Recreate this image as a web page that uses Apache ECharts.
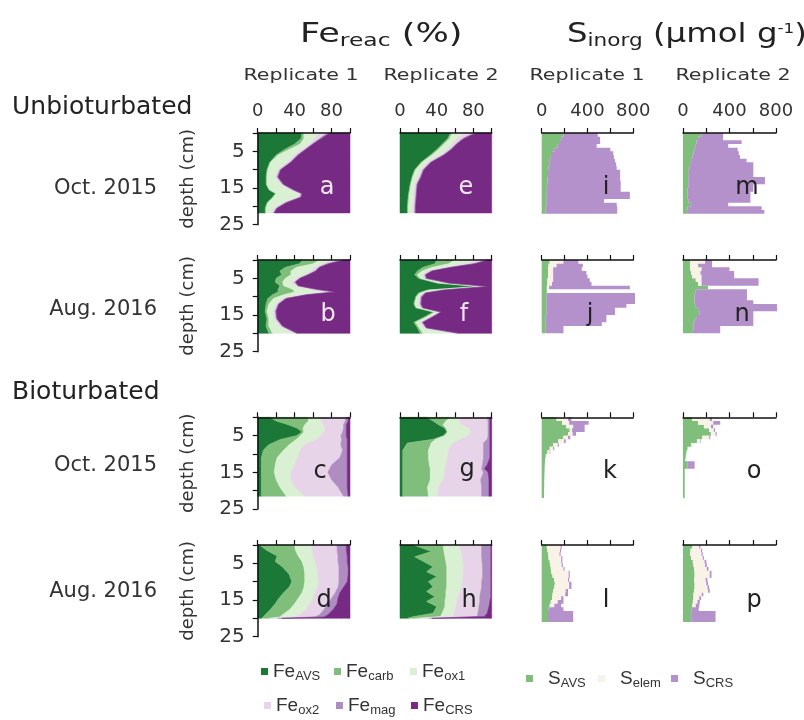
<!DOCTYPE html>
<html><head><meta charset="utf-8">
<script src="https://cdn.jsdelivr.net/npm/echarts@6/dist/echarts.min.js"></script>
<style>html,body{margin:0;padding:0;background:#fff}#c{width:804px;height:720px}</style>
</head><body><div id="c"></div>
<script>
// ---------- categories / names ----------
const feKeys = ['AVS','carb','ox1','ox2','mag','CRS'];
const feNames = ['Fe_AVS','Fe_carb','Fe_ox1','Fe_ox2','Fe_mag','Fe_CRS'];
const sKeys = ['AVS','elem','CRS'];
const sNames = ['S_AVS','S_elem','S_CRS'];
const feTickLabels = ['0','40','80'];
const sTickLabels = ['0','400','800'];
const depthTickLabels = ['5','15','25'];
const rowLabels = ['Oct. 2015','Aug. 2016','Oct. 2015','Aug. 2016'];
const panelLetters = [['a','e','i','m'],['b','f','j','n'],['c','g','k','o'],['d','h','l','p']];
const sliceThickness = 1; // cm, S slices

// ---------- Fe_reac (%) profiles ----------
const feA = { depth:[0,1.5,3,4.5,6,8,10,12,14,15.5,16.5,17.5,19,20.5,21.8],
  AVS:[48,47,40,29,20,13,10,9,9,12,19,16,10,8,8], carb:[2,3,6,5,2,1,1,1,1,1,1,1,1,1,1],
  ox1:[17,12,10,14,18,18,11,9,15,23,25,27,17,9,6], ox2:[8,5,3,3,3,3,2,2,2,2,2,2,2,2,2],
  mag:[3,2,1,1,1,1,1,1,1,1,1,1,1,1,1], CRS:[22,31,40,48,56,64,75,78,72,61,52,53,69,79,82] };
const feE = { depth:[0,1.5,3,4.5,6,8,10,12,14,17,20,21.8],
  AVS:[55,52,46,40,33,23,16,13,11,9,8,8], carb:[2,2,2,2,2,1,1,1,1,1,1,1],
  ox1:[13,8,9,10,9,6,6,6,4,5,5,5], ox2:[10,6,4,3,3,3,2,2,2,2,2,2],
  mag:[3,2,1,1,1,1,1,1,1,1,1,1], CRS:[17,30,38,44,52,66,74,77,81,82,83,83] };
const feB = { depth:[0,1,2,3,4,5,6,7,8,8.7,9.5,10.5,12,14,16,18,20],
  AVS:[49,45,30,24,26,20,19,24,22,22,16,11,9,8,10,9,12], carb:[18,15,12,12,10,10,8,4,16,18,12,6,3,2,2,3,4],
  ox1:[17,10,20,22,15,12,10,12,20,36,20,10,8,7,6,12,22], ox2:[8,5,4,4,3,3,3,3,5,6,4,3,2,2,2,2,4],
  mag:[2,2,1,1,1,1,1,1,1,2,1,1,1,1,1,1,1], CRS:[6,23,33,37,45,54,59,56,36,16,47,69,77,80,79,73,57] };
const feF = { depth:[0,1,2,3,4,5,6.3,7.2,8.2,9,10,12,13,14.2,15.5,17,18.5,20],
  AVS:[40,38,25,19,16,20,40,84,29,20,17,15,17,36,27,15,19,22], carb:[20,15,10,5,3,2,2,2,3,2,1,1,1,2,2,2,2,3],
  ox1:[27,20,15,7,6,4,9,7,12,3,3,4,4,4,4,5,5,35], ox2:[7,7,5,3,2,2,2,3,3,2,2,2,2,2,2,2,2,4],
  mag:[2,2,1,1,1,1,1,1,1,1,1,1,1,1,1,1,1,1], CRS:[4,18,44,65,72,71,46,3,52,72,76,77,75,55,64,75,71,35] };
const feC = { depth:[0,1,2,3,4,5,6,7.5,9,11,13,15,17,19,21.5],
  AVS:[13,20,33,43,48,42,25,12,6,4,4,4,4,4,4], carb:[42,35,18,6,2,4,17,22,22,17,15,14,16,20,27],
  ox1:[12,14,20,24,22,22,22,16,18,22,21,18,16,16,20], ox2:[28,26,22,20,20,22,27,40,46,46,40,40,44,47,42],
  mag:[3,3,3,3,4,6,6,7,5,8,17,21,17,10,5], CRS:[2,2,4,4,4,4,3,3,3,3,3,3,3,3,2] };
const feG = { depth:[0,1,2,3,4,5,6,7,9,11,13,14,15,17,19,21.5],
  AVS:[29,36,42,49,51,47,36,8,3,3,3,3,3,3,3,3], carb:[26,14,5,1,1,2,3,26,28,28,29,30,30,30,27,28],
  ox1:[14,14,20,26,25,26,27,24,22,21,18,16,16,14,12,10], ox2:[26,32,29,20,19,21,29,33,38,39,40,40,42,41,47,48],
  mag:[3,2,2,2,2,2,3,7,7,7,5,3,5,9,8,8], CRS:[2,2,2,2,2,2,2,2,2,2,5,8,4,3,3,3] };
const feD = { depth:[0,1.5,3,4.5,6,8,10,11.5,13,14.5,16,17.5,19,19.6,20],
  AVS:[2,10,21,19,27,34,37,34,28,23,19,14,8,6,4], carb:[38,31,23,29,23,17,14,16,20,21,21,21,19,18,8],
  ox1:[18,18,16,14,14,14,15,15,14,16,16,18,18,16,4], ox2:[28,27,27,25,24,23,22,22,22,20,20,19,22,22,6],
  mag:[10,10,10,10,10,10,9,6,5,7,10,10,9,10,4], CRS:[4,4,3,3,2,2,3,7,11,13,14,18,24,28,74] };
const feH = { depth:[0,1.8,3.2,5.9,7.3,8.6,10,11.4,12.7,14.1,15.4,16.8,18.6,19.5,20],
  AVS:[15,34,16,36,29,40,31,36,29,38,29,40,36,15,8], carb:[32,14,33,15,22,11,20,15,21,12,20,9,10,29,10],
  ox1:[18,19,19,18,18,18,17,16,16,13,13,12,13,14,8], ox2:[24,22,21,21,21,21,21,22,22,24,25,25,26,26,6],
  mag:[10,10,10,9,9,9,10,10,11,12,11,11,10,8,3], CRS:[1,1,1,1,1,1,1,1,1,1,2,3,5,8,65] };

// ---------- S_inorg (umol/g) slices (top depth of each 1-cm slice) ----------
const sI = { top:[0,1,2,3,4,5,6,7,8,9,10,11,12,13,14,15,16,17,18,19,20,21],
  AVS:[190,170,160,140,110,90,80,70,65,60,55,55,50,50,45,45,45,40,40,40,35,35],
  elem:[0,0,0,0,0,0,0,0,0,0,0,0,0,0,0,0,0,0,0,0,0,0],
  CRS:[300,340,350,340,490,535,550,570,585,595,630,630,635,640,645,645,725,730,505,615,625,625] };
const sM = { top:[0,1,2,3,4,5,6,7,8,9,10,11,12,13,14,15,16,17,18,19,20,21],
  AVS:[158,130,115,105,100,90,80,70,60,55,50,50,45,45,45,40,40,40,45,70,40,35],
  elem:[0,0,0,0,0,0,0,0,0,0,0,0,0,0,0,0,0,0,0,0,0,0],
  CRS:[187,215,389,284,370,390,410,477,545,550,555,555,660,660,560,565,540,540,535,319,637,665] };
const sJ = { top:[0,1,2,3,4,5,6,7,8,9,10,11,12,13,14,15,16,17,18,19],
  AVS:[70,60,55,55,55,50,50,45,45,40,40,40,40,40,40,35,35,35,35,35],
  elem:[120,70,45,45,45,50,40,20,0,0,0,0,0,0,0,0,0,0,0,0],
  CRS:[130,230,250,290,300,320,345,705,0,775,775,775,700,600,600,530,530,490,155,155] };
const sN = { top:[0,1,2,3,4,5,6,7,8,9,10,11,12,13,14,15,16,17,18,19],
  AVS:[60,60,60,70,80,110,130,215,110,100,100,100,110,130,140,120,100,90,90,85],
  elem:[130,70,100,80,80,50,30,0,0,0,0,0,0,0,0,0,0,0,0,0],
  CRS:[60,120,240,290,280,490,490,0,440,450,450,505,700,680,465,485,505,515,230,235] };
const sK = { top:[0,1,2,3,4,5,6,7,8,9,10,11,12,13,14,15,16,17,18,19,20,21],
  AVS:[130,180,215,245,230,190,145,100,70,50,35,30,28,26,25,24,23,22,22,21,20,20],
  elem:[100,60,60,20,40,40,50,40,30,20,0,0,0,0,0,0,0,0,0,0,0,0],
  CRS:[30,170,100,110,30,20,15,10,10,5,0,0,0,0,0,0,0,0,0,0,0,0] };
const sO = { top:[0,1,2,3,4,5,6,7,8,9,10,11,12,13,14,15,16,17,18,19,20,21],
  AVS:[80,130,180,225,240,165,120,70,40,30,25,20,40,40,15,15,15,15,15,15,15,15],
  elem:[150,130,60,40,40,60,30,20,10,0,0,0,0,0,0,0,0,0,0,0,0,0],
  CRS:[20,60,20,10,10,10,5,0,0,0,0,0,60,60,0,0,0,0,0,0,0,0] };
const sL = { top:[0,1,2,3,4,5,6,7,8,9,10,11,12,13,14,15,16,17,18,19,20],
  AVS:[45,50,55,60,70,75,80,85,95,110,115,110,100,95,90,80,70,60,55,55,55],
  elem:[120,110,100,110,100,100,110,150,140,120,125,130,110,110,80,60,40,0,0,0,0],
  CRS:[10,10,10,10,10,10,10,10,10,10,20,20,20,25,20,50,60,130,220,220,220] };
const sP = { top:[0,1,2,3,4,5,6,7,8,9,10,11,12,13,14,15,16,17,18,19,20],
  AVS:[80,65,60,70,85,90,95,100,100,95,100,100,95,90,90,85,80,75,70,70,70],
  elem:[60,90,100,100,100,100,110,130,130,100,100,110,120,70,50,40,30,0,0,0,0],
  CRS:[10,10,10,10,15,15,15,15,15,15,15,15,15,15,15,20,30,60,210,210,210] };

const fePanels = [[feA, feE], [feB, feF], [feC, feG], [feD, feH]];
const sPanels = [[sI, sM], [sJ, sN], [sK, sO], [sL, sP]];

// ---------- styling ----------
const feColors = ['#1b7837','#7fbf7b','#d9f0d3','#e7d4e8','#af8dc3','#762a83'];
const sColors = ['#7fbf7b','#f8f3e6','#b491cb'];
const FONT = 'DejaVu Sans';
const TXT = '#333';
const colLeft = [257.7, 400, 541.7, 683];
const colWidth = [92.3, 91.7, 91.6, 93];
const rowTop = [133, 260, 417.3, 545];
const panelH = 91.7;

// Fe: one stacked band per component, drawn as a single polygon through the axes
function renderBand(params, api) {
  if (params.dataIndexInside !== 0) return null;
  const n = params.dataInsideLength;
  const pts = [];
  for (let i = 0; i < n; i++) pts.push(api.coord([api.value(1, i), api.value(2, i)]));
  for (let i = n - 1; i >= 0; i--) pts.push(api.coord([api.value(0, i), api.value(2, i)]));
  const c = api.visual('color');
  return { type: 'polygon', shape: { points: pts }, style: { fill: c, stroke: c, lineWidth: 0.5 } };
}
// S: stepped band (1-cm slices) per component
function renderStep(params, api) {
  if (params.dataIndexInside !== 0) return null;
  const n = params.dataInsideLength;
  const pts = [];
  for (let i = 0; i < n; i++) {
    pts.push(api.coord([api.value(1, i), api.value(2, i)]));
    pts.push(api.coord([api.value(1, i), api.value(3, i)]));
  }
  for (let i = n - 1; i >= 0; i--) {
    pts.push(api.coord([api.value(0, i), api.value(3, i)]));
    pts.push(api.coord([api.value(0, i), api.value(2, i)]));
  }
  return { type: 'polygon', shape: { points: pts }, style: { fill: api.visual('color') } };
}

const grid = [], xAxis = [], yAxis = [], series = [];
for (let r = 0; r < 4; r++) {
  for (let c = 0; c < 4; c++) {
    const gi = r * 4 + c;
    const isFe = c < 2;
    grid.push({ left: colLeft[c], top: rowTop[r], width: colWidth[c], height: panelH });
    xAxis.push({
      gridIndex: gi, type: 'value', position: 'top', z: 10,
      min: 0, max: isFe ? 100 : 800, interval: isFe ? 20 : 200,
      axisLine: { show: true, onZero: false, lineStyle: { color: '#111', width: 1.5 } },
      axisTick: { show: true, length: 5, lineStyle: { color: '#111', width: 1.2 } },
      axisLabel: { show: r === 0, margin: 13, fontSize: 18, color: TXT, fontFamily: FONT,
        formatter: v => ((isFe ? feTickLabels : sTickLabels).includes(String(v)) ? String(v) : '') },
      splitLine: { show: false }
    });
    yAxis.push({
      gridIndex: gi, type: 'value', inverse: true, min: 0, max: 25, interval: 5, z: 10,
      show: c === 0,
      name: c === 0 ? 'depth (cm)' : '', nameLocation: 'middle', nameRotate: 90, nameGap: 60,
      nameTextStyle: { fontSize: 18, color: TXT, fontFamily: FONT },
      axisLine: { show: true, onZero: false, lineStyle: { color: '#111', width: 1.5 } },
      axisTick: { show: true, length: 5, lineStyle: { color: '#111', width: 1.2 } },
      axisLabel: { margin: 13, fontSize: 20, color: TXT, fontFamily: FONT,
        formatter: v => (depthTickLabels.includes(String(v)) ? String(v) : '') },
      splitLine: { show: false }
    });
    if (isFe) {
      const p = fePanels[r][c];
      feKeys.forEach((k, ki) => {
        const data = p.depth.map((d, i) => {
          let L = 0;
          for (let j = 0; j < ki; j++) L += p[feKeys[j]][i];
          return [L, L + p[k][i], d];
        });
        series.push({ type: 'custom', name: feNames[ki], xAxisIndex: gi, yAxisIndex: gi,
          itemStyle: { color: feColors[ki] }, renderItem: renderBand,
          encode: { x: [0, 1], y: [2] }, data, silent: true });
      });
    } else {
      const p = sPanels[r][c - 2];
      sKeys.forEach((k, ki) => {
        const data = p.top.map((t, i) => {
          let L = 0;
          for (let j = 0; j < ki; j++) L += p[sKeys[j]][i];
          return [L, L + p[k][i], t, t + sliceThickness];
        });
        series.push({ type: 'custom', name: sNames[ki], xAxisIndex: gi, yAxisIndex: gi,
          itemStyle: { color: sColors[ki] }, renderItem: renderStep,
          encode: { x: [0, 1], y: [2, 3] }, data, silent: true });
      });
    }
  }
}

// ---------- legends (one per entry, placed like the figure) ----------
const legendPos = [
  ['Fe_AVS', 261, 662], ['Fe_carb', 334, 662], ['Fe_ox1', 410, 662],
  ['Fe_ox2', 264, 696], ['Fe_mag', 336, 696], ['Fe_CRS', 411, 696],
  ['S_AVS', 526, 669], ['S_elem', 598, 669], ['S_CRS', 671, 669]
];
const legend = legendPos.map(([name, left, top]) => {
  const isS = name.startsWith('S_');
  return {
    data: [name], left, top, padding: 0, icon: 'rect', itemWidth: 7, itemHeight: 7,
    selectedMode: false,
    formatter: n => { const parts = n.split('_'); return (isS ? '{ms|' : '{m|') + parts[0] + '}{s|' + parts[1] + '}'; },
    textStyle: { color: TXT, rich: {
      m: { fontSize: 19, fontFamily: 'Liberation Sans', color: TXT },
      ms: { fontSize: 19, fontFamily: 'Liberation Sans', color: TXT, padding: [0, 0, 0, 10] },
      s: { fontSize: 13, fontFamily: 'Liberation Sans', color: TXT, padding: [9, 0, 0, 0] }
    } }
  };
});

// ---------- text annotations ----------
const graphic = [];
graphic.push({ type: 'text', x: 300, y: 35, scaleX: 1.3, style: {
  text: '{m|Fe}{s|reac}{m| (%)}', align: 'left', verticalAlign: 'middle',
  rich: { m: { fontSize: 27, fontFamily: FONT, fill: '#222' }, s: { fontSize: 18, fontFamily: FONT, fill: '#222', padding: [12, 0, 0, 0] } } } });
graphic.push({ type: 'text', x: 567, y: 35, scaleX: 1.2, style: {
  text: '{m|S}{s|inorg}{m| (μmol g}{p|-1}{m|)}', align: 'left', verticalAlign: 'middle',
  rich: { m: { fontSize: 27, fontFamily: FONT, fill: '#222' }, s: { fontSize: 18, fontFamily: FONT, fill: '#222', padding: [12, 0, 0, 0] },
          p: { fontSize: 14, fontFamily: FONT, fill: '#222', padding: [0, 0, 12, 0] } } } });
const repCenters = [301, 441, 587, 733];
const repNames = ['Replicate 1', 'Replicate 2', 'Replicate 1', 'Replicate 2'];
repCenters.forEach((cx, i) => graphic.push({ type: 'text', x: cx, y: 76, scaleX: 1.25, style: {
  text: repNames[i], align: 'center', verticalAlign: 'middle', fontSize: 16.5, fontFamily: FONT, fill: TXT } }));
graphic.push({ type: 'text', x: 12, y: 107, style: { text: 'Unbioturbated', align: 'left', verticalAlign: 'middle', fontSize: 25, fontFamily: FONT, fill: '#222' } });
graphic.push({ type: 'text', x: 12, y: 392, style: { text: 'Bioturbated', align: 'left', verticalAlign: 'middle', fontSize: 25, fontFamily: FONT, fill: '#222' } });
const rowLabelY = [189, 310, 466, 592];
rowLabels.forEach((t, r) => graphic.push({ type: 'text', x: 157, y: rowLabelY[r], style: {
  text: t, align: 'right', verticalAlign: 'middle', fontSize: 21, fontFamily: FONT, fill: TXT } }));
const letterPos = [
  [[327,188],[466,188],[606,188],[747,188]],
  [[328,315],[464,315],[590,315],[742,315]],
  [[320,472],[467,470],[610,472],[754,472]],
  [[324,601],[469,601],[606,601],[754,601]]
];
for (let r = 0; r < 4; r++) for (let c = 0; c < 4; c++) {
  const white = r < 2 && c < 2;
  graphic.push({ type: 'text', x: letterPos[r][c][0], y: letterPos[r][c][1], z: 100, style: {
    text: panelLetters[r][c], align: 'center', verticalAlign: 'middle', fontSize: 24, fontFamily: FONT,
    fill: white ? '#f2e6f2' : '#222' } });
}

const chart = echarts.init(document.getElementById('c'), null, { renderer: 'canvas' });
chart.setOption({
  animation: false,
  backgroundColor: '#fff',
  textStyle: { fontFamily: FONT },
  grid, xAxis, yAxis, series, legend, graphic
});
</script></body></html>
